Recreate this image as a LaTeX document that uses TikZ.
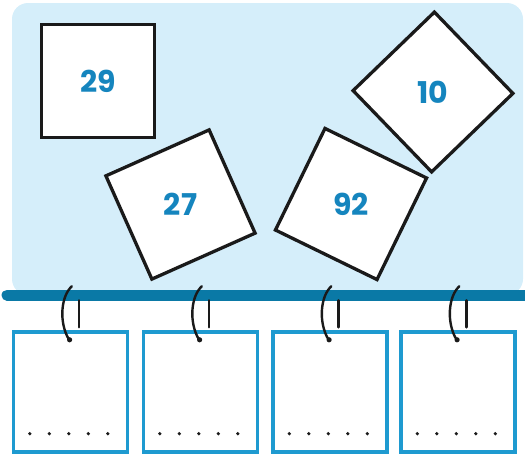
\documentclass[tikz,border=0pt]{standalone}
\usepackage{fontspec}
\setmainfont{Poppins}
\usepackage{xcolor}
\usepackage{tikz}
\usetikzlibrary{positioning,calc}
\definecolor{skybg}{HTML}{D5EEFA}
\definecolor{rodblue}{HTML}{0A79A6}
\definecolor{tagblue}{HTML}{1E9AD0}
\definecolor{numblue}{HTML}{1585BE}
\definecolor{inkk}{HTML}{1A1A1A}
\tikzset{
  card/.style={draw=inkk, line width=3.3pt, fill=white, minimum size=113pt,
               inner sep=0pt, rotate=#1},
  num/.style={text=numblue, font=\fontsize{30}{30}\selectfont\bfseries},
  tag/.style={draw=tagblue, line width=3.4pt, fill=white, minimum width=114pt,
              minimum height=120pt, inner sep=0pt},
  ring/.style={draw=inkk, line width=2.4pt, line cap=round}
}

\begin{document}
\begin{tikzpicture}[x=1pt, y=-1pt]
  \useasboundingbox (0,0) rectangle (525,456);
  % backdrop
  \fill[skybg, rounded corners=16pt] (12,3) rectangle (523,295);
  % number cards
  \node[card=0]   (c29) at (98,81) {};
  \node[card=24]  (c27) at (180.5,204.5) {};
  \node[card=-26] (c92) at (351,204) {};
  \node[card=44]  (c10) at (433,92) {};
  \node[num] at (c29) {29};
  \node[num] at (c27) {27};
  \node[num] at (c92) {92};
  \node[num] at (c10) {10};
  % rod
  \coordinate (rodL) at (7,295);
  \coordinate (rodR) at (530,295);
  \draw[rodblue, line width=11pt, line cap=round] (rodL) -- (rodR);
  % tags on the rod
  \foreach \i/\x in {1/70.5, 2/200.5, 3/330, 4/458}{
    \node[tag] (t\i) at (\x,392) {};
    \coordinate (h\i) at ($(t\i.north west)+(57,0)$);
    \draw[ring] ($(h\i)+(10,-30)$) -- ($(h\i)+(10,-3)$);
    \draw[ring] ($(h\i)+(3,-44)$) .. controls ($(h\i)+(-8,-34)$) and ($(h\i)+(-10,-8)$) .. ($(h\i)+(0,9)$);
    \fill[inkk] ($(h\i)+(0.8,9.5)$) circle (2.6pt);
    \foreach \k in {0,...,4}
      \fill[inkk] ($(t\i.south west)+(18+19.5*\k,-20)$) circle (1.8pt);
  }
\end{tikzpicture}
\end{document}
